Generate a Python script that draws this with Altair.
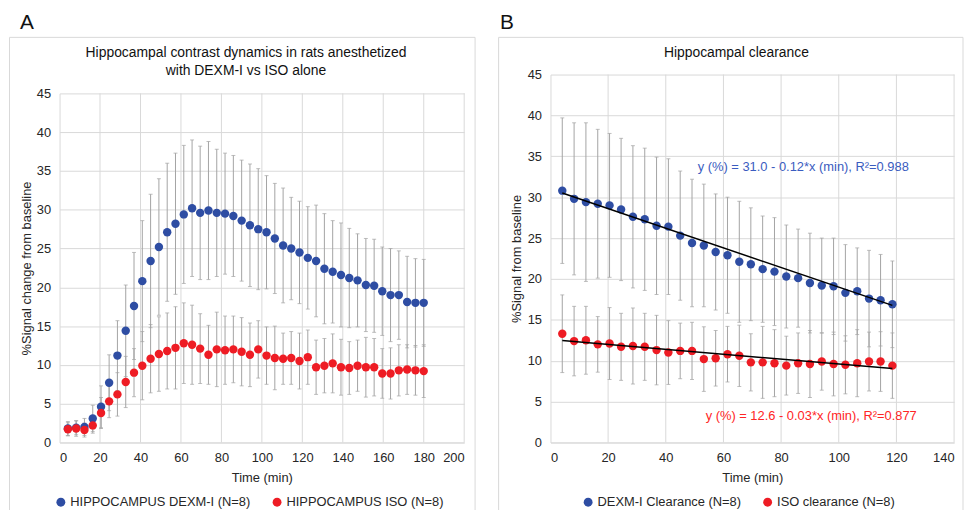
import altair as alt
import pandas as pd

# ---------------- data ----------------
t_a = [4.1, 8.2, 12.3, 16.4, 20.5, 24.5, 28.6, 32.7, 36.8, 40.9, 45.0, 49.1, 53.2, 57.3,
       61.4, 65.5, 69.5, 73.6, 77.7, 81.8, 85.9, 90.0, 94.1, 98.2, 102.3, 106.4, 110.5,
       114.5, 118.6, 122.7, 126.8, 130.9, 135.0, 139.1, 143.2, 147.3, 151.4, 155.5,
       159.5, 163.6, 167.7, 171.8, 175.9, 180.0]
dexm_a = [1.8, 1.9, 2.0, 3.1, 4.6, 7.7, 11.2, 14.4, 17.6, 20.8, 23.4, 25.2, 27.1, 28.2,
          29.4, 30.2, 29.6, 29.9, 29.6, 29.5, 29.2, 28.6, 28.0, 27.5, 27.1, 26.3, 25.4,
          25.0, 24.5, 23.8, 23.4, 22.4, 22.0, 21.6, 21.2, 20.9, 20.3, 20.2, 19.5, 19.0,
          19.0, 18.1, 18.0, 18.0]
dexm_a_sd = [0.9, 0.9, 1.1, 1.7, 2.7, 3.6, 4.5, 5.9, 6.9, 7.8, 8.6, 8.8, 8.9, 9.1, 8.9,
             8.8, 8.6, 8.9, 8.2, 7.8, 7.8, 7.8, 7.9, 7.8, 7.3, 7.1, 7.4, 6.6, 6.6, 6.6,
             7.2, 7.1, 6.6, 6.7, 6.4, 6.0, 6.0, 6.0, 5.7, 6.0, 5.7, 5.9, 5.7, 5.6]
iso_a = [1.7, 1.8, 1.6, 2.2, 3.8, 5.3, 6.2, 7.8, 9.0, 9.9, 10.8, 11.4, 11.8, 12.2, 12.8,
         12.6, 12.1, 11.3, 12.0, 11.9, 12.0, 11.7, 11.3, 12.0, 11.2, 10.9, 10.8, 10.9,
         10.5, 11.0, 9.7, 9.9, 10.2, 9.7, 9.6, 9.9, 9.7, 9.7, 8.9, 8.9, 9.3, 9.4, 9.3, 9.2]
iso_a_sd = [0.85, 1.0, 0.9, 1.0, 2.0, 2.1, 2.8, 3.3, 3.1, 4.4, 4.4, 4.8, 4.9, 5.3, 5.2,
            5.1, 4.5, 3.8, 4.8, 4.4, 4.3, 4.4, 4.1, 3.7, 3.7, 4.1, 3.3, 3.4, 3.6, 3.5,
            3.5, 3.5, 3.8, 3.6, 3.4, 3.3, 3.85, 3.7, 3.2, 3.3, 3.3, 3.2, 3.2, 3.4]

t_b = [4.1, 8.2, 12.3, 16.4, 20.5, 24.5, 28.6, 32.7, 36.8, 40.9, 45.0, 49.1, 53.2, 57.3,
       61.4, 65.5, 69.5, 73.6, 77.7, 81.8, 85.9, 90.0, 94.1, 98.2, 102.3, 106.4, 110.5,
       114.5, 118.6]
dexm_b = [30.8, 29.8, 29.4, 29.2, 29.0, 28.5, 27.6, 27.3, 26.5, 26.4, 25.3, 24.4, 24.1,
          23.3, 22.9, 22.1, 21.8, 21.2, 20.9, 20.3, 20.1, 19.5, 19.2, 19.1, 18.3, 18.5,
          17.6, 17.4, 16.9]
dexm_b_sd = [8.9, 9.3, 9.7, 9.1, 8.8, 8.7, 8.7, 8.7, 8.4, 8.3, 7.9, 7.8, 7.5, 7.1, 7.1,
             7.4, 6.9, 6.5, 6.6, 6.3, 6.0, 6.1, 5.8, 5.9, 5.9, 5.3, 5.9, 5.6, 5.3]
iso_b = [13.3, 12.4, 12.5, 12.0, 12.1, 11.7, 11.8, 11.7, 11.3, 11.0, 11.2, 11.2, 10.2,
         10.3, 10.8, 10.6, 9.8, 9.8, 9.7, 9.4, 9.7, 9.6, 9.9, 9.6, 9.5, 9.7, 9.9, 9.9, 9.4]
iso_b_sd = [4.75, 4.25, 4.15, 3.4, 4.4, 4.1, 4.65, 4.1, 4.25, 3.9, 3.4, 3.5, 3.95, 3.4,
            3.4, 3.75, 3.5, 4.4, 4.1, 3.6, 3.7, 4.1, 3.5, 3.9, 3.55, 4.1, 3.6, 3.65, 4.0]

# linear fits shown in panel B: intercept, slope
fit_intercepts = [31.0, 12.6]
fit_slopes = [-0.12, -0.03]
fit_labels = ["y (%) = 31.0 - 0.12*x (min), R\u00b2=0.988",
              "y (%) = 12.6 - 0.03*x (min), R\u00b2=0.877"]

series_a = ["HIPPOCAMPUS DEXM-I (N=8)", "HIPPOCAMPUS ISO (N=8)"]
series_b = ["DEXM-I Clearance (N=8)", "ISO clearance (N=8)"]
title_a = ["Hippocampal contrast dynamics in rats anesthetized", "with DEXM-I vs ISO alone"]
title_b = "Hippocampal clearance"
ticks_a = list(range(0, 201, 20))
ticks_b = list(range(0, 141, 20))
ticks_y = list(range(0, 46, 5))

# ---------------- styling ----------------
FONT = "Liberation Sans"
BLUE = "#2E4DA3"
RED = "#EE1C24"
EQ_BLUE = "#3A5CC0"
EQ_RED = "#FF2525"
BAR = "#A3A3A3"
GRID = "#D9D9D9"
TXT = "#262626"


def long_df(t, names, means, sds):
    rows = []
    for name, m, sd in zip(names, means, sds):
        for ti, mi, si in zip(t, m, sd):
            rows.append({"t": ti, "mean": mi, "lo": mi - si, "hi": mi + si, "series": name})
    return pd.DataFrame(rows)


def panel(df, names, xmax, xticks, w, h, yrange, ytitle, ytitle_x, ytitle_y, letter,
          letter_x, letter_y, frame, title_text, title_x, title_y, legend_x, legend_y,
          extra=()):
    x_axis = alt.Axis(values=xticks, title="Time (min)", titleX=w / 2, titleY=39,
                      titleBaseline="alphabetic", titleAlign="center", grid=False)
    y_axis = alt.Axis(values=ticks_y, title=ytitle, titleX=ytitle_x, titleY=ytitle_y,
                      titleAngle=270, titleAlign="center", titleBaseline="middle",
                      labelOverlap=False)
    xs = alt.Scale(domain=[0, xmax], nice=False, zero=True)
    ys = alt.Scale(domain=[0, 45], nice=False, zero=True, range=yrange)

    def X(f):
        return alt.X(f, type="quantitative", scale=xs, axis=x_axis)

    def Y(f):
        return alt.Y(f, type="quantitative", scale=ys, axis=y_axis)

    one = pd.DataFrame({"k": [0]})
    fx1, fx2, fy1, fy2 = frame
    frame_l = alt.Chart(one).mark_rect(fill="transparent", stroke=GRID, strokeWidth=1).encode(
        x=alt.value(fx1), x2=alt.value(fx2), y=alt.value(fy1), y2=alt.value(fy2))
    letter_l = alt.Chart(one).mark_text(
        text=letter, fontSize=21, align="left", baseline="alphabetic", color="#111111"
    ).encode(x=alt.value(letter_x), y=alt.value(letter_y))
    title_l = alt.Chart(one).mark_text(
        text=title_text, fontSize=14, align="center", baseline="alphabetic",
        lineHeight=18, color="#111111"
    ).encode(x=alt.value(title_x), y=alt.value(title_y))

    # vertical gridlines at the x tick values, spanning the y domain
    grid_df = pd.DataFrame({"t": xticks[1:], "lo": [0] * (len(xticks) - 1),
                            "hi": [45] * (len(xticks) - 1)})
    vgrid = alt.Chart(grid_df).mark_rule(color=GRID, strokeWidth=1).encode(
        x=X("t"), y=Y("lo"), y2="hi")

    bars = alt.Chart(df).mark_rule(color=BAR, strokeWidth=1).encode(x=X("t"), y=Y("lo"), y2="hi")
    cap_lo = alt.Chart(df).mark_tick(color=BAR, orient="horizontal", size=4, thickness=1).encode(
        x=X("t"), y=Y("lo"))
    cap_hi = alt.Chart(df).mark_tick(color=BAR, orient="horizontal", size=4, thickness=1).encode(
        x=X("t"), y=Y("hi"))
    pts = alt.Chart(df).mark_circle(size=72, opacity=1).encode(
        x=X("t"), y=Y("mean"),
        color=alt.Color("series:N", scale=alt.Scale(domain=names, range=[BLUE, RED]),
                        legend=alt.Legend(title=None, orient="none", legendX=legend_x,
                                          legendY=legend_y, direction="horizontal",
                                          symbolType="circle", symbolSize=80,
                                          symbolStrokeWidth=0, labelFontSize=13,
                                          labelColor=TXT, labelOffset=3, labelLimit=400,
                                          columnPadding=20, padding=0)))
    layers = [frame_l, letter_l, title_l, vgrid, bars, cap_lo, cap_hi, pts]
    for e in extra:
        layers.append(e(X, Y))
    return alt.layer(*layers).properties(width=w, height=h)


df_a = long_df(t_a, series_a, [dexm_a, iso_a], [dexm_a_sd, iso_a_sd])
df_b = long_df(t_b, series_b, [dexm_b, iso_b], [dexm_b_sd, iso_b_sd])

fit_rows = []
for i, (a, b) in enumerate(zip(fit_intercepts, fit_slopes)):
    for tx in (t_b[0], t_b[-1]):
        fit_rows.append({"t": tx, "mean": a + b * tx, "series": series_b[i]})
fit_df = pd.DataFrame(fit_rows)


def fit_layer(X, Y):
    return alt.Chart(fit_df).mark_line(color="black", strokeWidth=1.5).encode(
        x=X("t"), y=Y("mean"), detail="series:N")


def eq_blue(X, Y):
    return alt.Chart(pd.DataFrame({"k": [0]})).mark_text(
        text=fit_labels[0], fontSize=13, align="left", baseline="middle", color=EQ_BLUE
    ).encode(x=alt.value(148.5), y=alt.value(74))


def eq_red(X, Y):
    return alt.Chart(pd.DataFrame({"k": [0]})).mark_text(
        text=fit_labels[1], fontSize=13, align="left", baseline="middle", color=EQ_RED
    ).encode(x=alt.value(156.5), y=alt.value(325))


# both panels share the same plot origin (page y = 91); panel B's y range
# reaches 19 px higher, as in the reference
panel_a = panel(df_a, series_a, 200, ticks_a, 408, 352, [352, 0],
                "%Signal change from baseline", -33.5, 176,
                "A", -40, -64.5, (-50.5, 419, -56.5, 421), title_a, 188, -36.5,
                -5.2, 405.5)
panel_b = panel(df_b, series_b, 140, ticks_b, 407, 352, [352, -19],
                "%Signal from baseline", -34.0, 166.5,
                "B", -51, -64.5, (-52.3, 416, -56.5, 421), [title_b], 187.5, -37.0,
                31.5, 405.5, extra=(fit_layer, eq_blue, eq_red))

chart = alt.hconcat(panel_a, panel_b, spacing=21).resolve_scale(
    color="independent", x="independent", y="independent"
).properties(
    padding={"left": 0, "top": 2, "right": 0, "bottom": 0}
).configure(font=FONT).configure_view(stroke="transparent").configure_axis(
    grid=True, gridColor=GRID, domainColor=GRID, ticks=False, labelFontSize=13,
    labelColor=TXT, labelPadding=9, titleFontSize=13, titleFontWeight="normal",
    titleColor=TXT, labelFont=FONT, titleFont=FONT
).configure_legend(labelFont=FONT)

chart.save("out.html", embed_options={"renderer": "svg", "actions": False})
